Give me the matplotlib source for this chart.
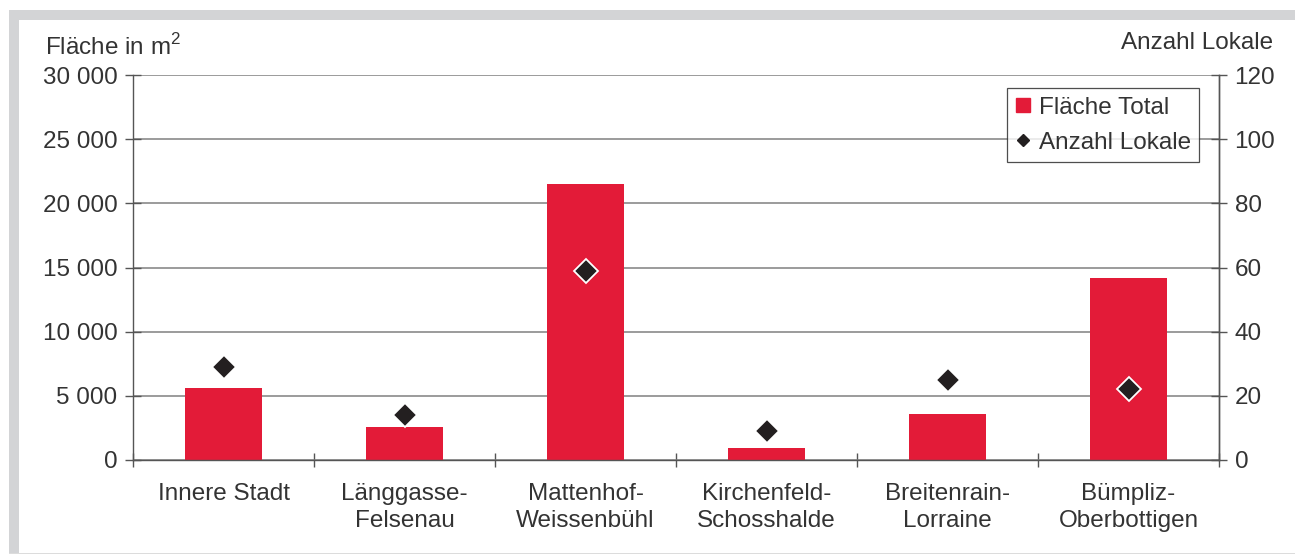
import matplotlib
matplotlib.use('Agg')
import matplotlib.pyplot as plt
from matplotlib.lines import Line2D
from matplotlib.patches import Rectangle
import numpy as np

plt.rcParams['font.family'] = ['Liberation Sans', 'DejaVu Sans']
plt.rcParams['mathtext.fontset'] = 'custom'
plt.rcParams['mathtext.rm'] = 'Liberation Sans'

# data
districts = ['Innere Stadt', 'Länggasse-\nFelsenau', 'Mattenhof-\nWeissenbühl',
             'Kirchenfeld-\nSchosshalde', 'Breitenrain-\nLorraine', 'Bümpliz-\nOberbottigen']
flaeche = [5600, 2600, 21500, 950, 3550, 14200]
lokale = [29, 14, 59, 9, 25, 22]
left_ticks = [0, 5000, 10000, 15000, 20000, 25000, 30000]
right_ticks = [0, 20, 40, 60, 80, 100, 120]

red = '#e31b38'
txt = '#333333'
axc = '#555555'
fs = 17.5

fig = plt.figure(figsize=(12.95, 5.55), dpi=100)

# grey frame
fig.patches.append(Rectangle((9/1295, 1-20/555), 1-9/1295, 10/555, transform=fig.transFigure,
                             facecolor='#d3d4d6', edgecolor='none'))
fig.patches.append(Rectangle((9/1295, 1-553/555), 10/1295, 533/555, transform=fig.transFigure,
                             facecolor='#d3d4d6', edgecolor='none'))
fig.patches.append(Rectangle((9/1295, 1-554/555), 1-9/1295, 1.5/555, transform=fig.transFigure,
                             facecolor='#dcdcdc', edgecolor='none'))

ax = fig.add_axes([133/1295, 95/555, 1086/1295, 385/555])
x = np.arange(len(districts))
ax.bar(x, flaeche, width=0.42, color=red, zorder=2)
ax.set_xlim(-0.5, len(districts) - 0.5)
ax.set_ylim(0, 30000)
ax.set_yticks(left_ticks)
ax.set_yticklabels([f'{v:,}'.replace(',', ' ') for v in left_ticks])
ax.yaxis.grid(True, color='#808080', linewidth=1.1)
ax.set_axisbelow(True)

ax.set_xticks(np.arange(-0.5, len(districts)), labels=[])
ax.set_xticks(x, minor=True)
ax.set_xticklabels(districts, minor=True, linespacing=1.3)
ax.tick_params(axis='x', which='minor', length=0, pad=16.5, labelsize=fs, labelcolor=txt)
ax.tick_params(axis='x', which='major', direction='inout', length=10, color=axc, width=1)
ax.tick_params(axis='y', direction='inout', length=11.5, pad=5.5, labelsize=fs,
               labelcolor=txt, color=axc, width=1)

for s in ['left', 'bottom', 'right']:
    ax.spines[s].set_color(axc)
    ax.spines[s].set_linewidth(1)
ax.spines['top'].set_visible(False)

ax2 = ax.twinx()
ax2.plot(x, lokale, linestyle='none', marker='D', markersize=12, markerfacecolor='#231f20',
         markeredgecolor='white', markeredgewidth=1.3, zorder=3)
ax2.set_ylim(0, 120)
ax2.set_yticks(right_ticks)
ax2.tick_params(axis='y', direction='inout', length=11.5, pad=5.5, labelsize=fs,
                labelcolor=txt, color=axc, width=1)
for s in ['top', 'left', 'bottom']:
    ax2.spines[s].set_visible(False)
ax2.spines['right'].set_color(axc)
ax2.spines['right'].set_linewidth(1)

fig.text(45/1295, 1-55/555, 'Fläche in m$^2$', fontsize=fs, color=txt, ha='left', va='baseline')
fig.text(1273/1295, 1-49/555, 'Anzahl Lokale', fontsize=fs, color=txt, ha='right', va='baseline')

handles = [Line2D([], [], linestyle='none', marker='s', markersize=10, color=red),
           Line2D([], [], linestyle='none', marker='D', markersize=6, color='#231f20')]
leg = ax2.legend(handles, ['Fläche Total', 'Anzahl Lokale'], loc='upper right',
                 bbox_to_anchor=(0.982, 0.966), borderaxespad=0, fancybox=False,
                 edgecolor='#222222', fontsize=fs, handlelength=0.6, handletextpad=0.35,
                 borderpad=0.35, labelspacing=0.55, labelcolor=txt)
leg.get_frame().set_linewidth(0.9)

fig.savefig('out.png', dpi=100)
